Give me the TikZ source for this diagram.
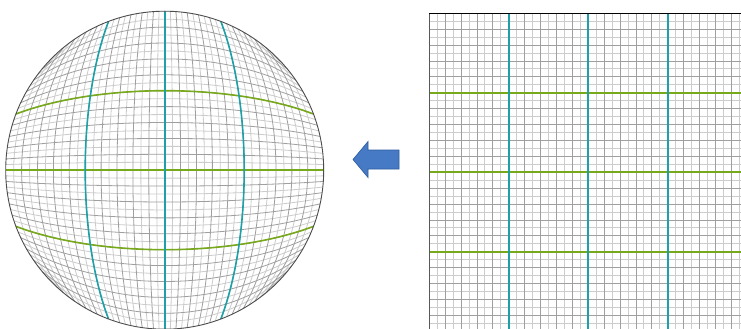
\documentclass[tikz,border=0pt]{standalone}
\definecolor{tealc}{RGB}{30,160,168}
\definecolor{greenc}{RGB}{120,168,28}
\definecolor{arrowc}{RGB}{70,122,196}
\definecolor{arrowd}{RGB}{45,92,160}
\begin{document}
\begin{tikzpicture}[x=1pt,y=-1pt,
  minor/.style={draw=gray!40, line width=0.8pt},
  major/.style={draw=gray!75, line width=0.8pt},
  vaxis/.style={draw=tealc, line width=1.6pt},
  haxis/.style={draw=greenc, line width=1.6pt},
  rim/.style={draw=gray!60!black, line width=0.9pt},
  blockarrow/.style={fill=arrowc, draw=arrowd, line width=0.6pt}]
\useasboundingbox (0,0) rectangle (741,329);
\clip (0,0) rectangle (741,329);
\fill[white] (0,0) rectangle (741,329);

% ---------- right: undistorted grid ----------
\begin{scope}[shift={(588.2,172.2)}, x=159pt, y=159pt]
  \foreach \k in {-19,-17,...,19} {
    \draw[minor] (\k/20,-1) -- (\k/20,1);
    \draw[minor] (-1,\k/20) -- (1,\k/20);
  }
  \foreach \k in {-18,-16,...,18} {
    \draw[major] (\k/20,-1) -- (\k/20,1);
    \draw[major] (-1,\k/20) -- (1,\k/20);
  }
  \draw[haxis] (-1,-0.5) -- (1,-0.5);
  \draw[haxis] (-1,0) -- (1,0);
  \draw[haxis] (-1,0.5) -- (1,0.5);
  \draw[vaxis] (-0.5,-1) -- (-0.5,1);
  \draw[vaxis] (0,-1) -- (0,1);
  \draw[vaxis] (0.5,-1) -- (0.5,1);
  \draw[draw=gray!70!black, line width=0.9pt] (-1,-1) -- (-1,1);
  \draw[draw=black, line width=1.1pt] (-1,1) -- (1,1);
\end{scope}

% ---------- left: barrel-distorted grid ----------
\begin{scope}[shift={(164.7,170.2)}, x=159pt, y=159pt]
  \foreach \k in {-19,-17,...,19} {
    \draw[minor] plot[domain=-1:1, samples=25, smooth, variable=\t]
      ({(\t)*sqrt(1-(\k/20)*(\k/20)/2)}, {(\k/20)*sqrt(1-(\t)*(\t)/2)});
    \draw[minor] plot[domain=-1:1, samples=25, smooth, variable=\t]
      ({(\k/20)*sqrt(1-(\t)*(\t)/2)}, {(\t)*sqrt(1-(\k/20)*(\k/20)/2)});
  }
  \foreach \k in {-18,-16,...,18} {
    \draw[major] plot[domain=-1:1, samples=25, smooth, variable=\t]
      ({(\t)*sqrt(1-(\k/20)*(\k/20)/2)}, {(\k/20)*sqrt(1-(\t)*(\t)/2)});
    \draw[major] plot[domain=-1:1, samples=25, smooth, variable=\t]
      ({(\k/20)*sqrt(1-(\t)*(\t)/2)}, {(\t)*sqrt(1-(\k/20)*(\k/20)/2)});
  }
  \draw[haxis] plot[domain=-1:1, samples=31, smooth, variable=\t]
      ({(\t)*sqrt(0.875)}, {0.5*sqrt(1-(\t)*(\t)/2)});
  \draw[haxis] (-1,0) -- (1,0);
  \draw[haxis] plot[domain=-1:1, samples=31, smooth, variable=\t]
      ({(\t)*sqrt(0.875)}, {-0.5*sqrt(1-(\t)*(\t)/2)});
  \draw[vaxis] plot[domain=-1:1, samples=31, smooth, variable=\t]
      ({-0.5*sqrt(1-(\t)*(\t)/2)}, {(\t)*sqrt(0.875)});
  \draw[vaxis] (0,-1) -- (0,1);
  \draw[vaxis] plot[domain=-1:1, samples=31, smooth, variable=\t]
      ({0.5*sqrt(1-(\t)*(\t)/2)}, {(\t)*sqrt(0.875)});
  \draw[rim] (0,0) circle[radius=1];
\end{scope}

% ---------- arrow ----------
\path[blockarrow] (353,159.5) -- (368,141.5) -- (368,150) -- (399,150)
  -- (399,169) -- (368,169) -- (368,177.5) -- cycle;
\end{tikzpicture}
\end{document}
